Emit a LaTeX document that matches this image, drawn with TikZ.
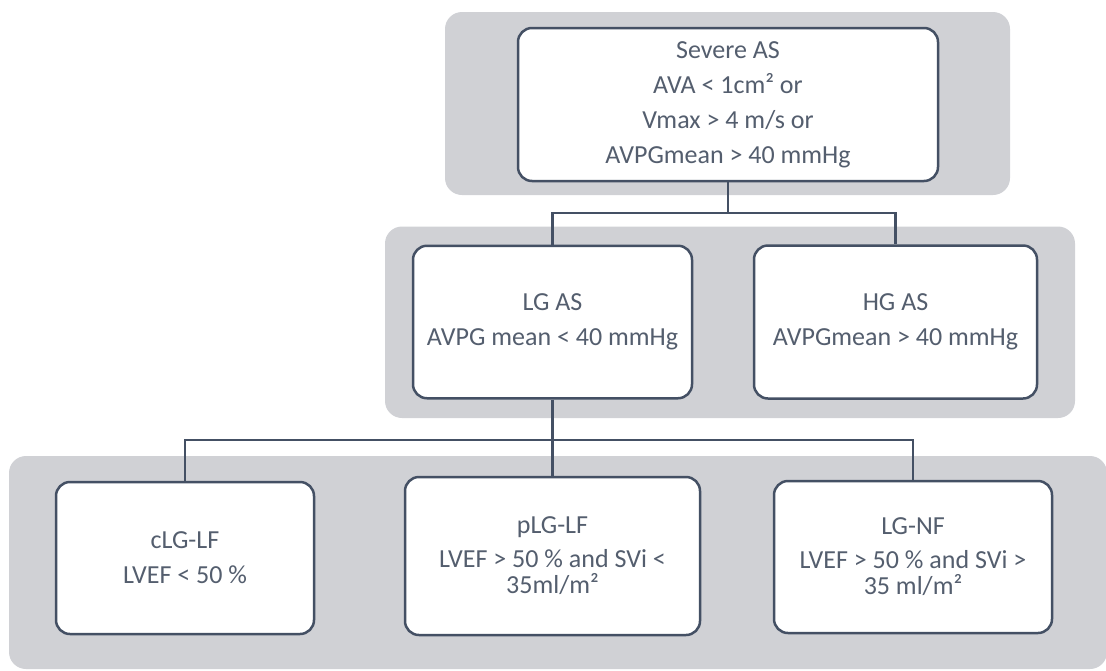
\documentclass[tikz,border=0pt]{standalone}
\usepackage{fontspec}
\setmainfont{Carlito}
\definecolor{panelgray}{RGB}{208,209,213}
\definecolor{linecol}{RGB}{68,80,100}
\definecolor{txtcol}{RGB}{84,94,110}
\tikzset{
  panel/.style={fill=panelgray, draw=none, rounded corners=17pt, inner sep=0pt},
  box/.style={draw=linecol, line width=2.5pt, fill=white, rounded corners=14pt,
    inner sep=0pt, align=center, text=txtcol,
    font=\fontsize{26}{26.5}\selectfont},
  link/.style={draw=linecol, line width=2.5pt},
}
\begin{document}
\begin{tikzpicture}[x=1pt, y=-1pt]
  \useasboundingbox (0,0) rectangle (1106,670);

  % grey bands behind each level
  \node[panel, minimum width=565pt, minimum height=183pt] (bandA) at (727.5,103.5) {};
  \node[panel, minimum width=690pt, minimum height=191.5pt] (bandB) at (730,322.25) {};
  \node[panel, minimum width=1098pt, minimum height=213pt] (bandC) at (558,562.5) {};

  % level 1
  \node[box, minimum width=420pt, minimum height=153pt] (severe) at (728,104.5)
    {Severe AS\\[8.5pt] AVA < 1cm² or\\[8.5pt] Vmax > 4 m/s or\\[8.5pt] AVPGmean > 40 mmHg};

  % level 2
  \node[box, minimum width=279pt, minimum height=152.5pt] (lg) at (552.5,322)
    {LG AS\\[8.5pt] AVPG mean < 40 mmHg};
  \node[box, minimum width=283pt, minimum height=153pt] (hg) at (895.5,322)
    {HG AS\\[8.5pt] AVPGmean > 40 mmHg};

  % level 3
  \node[box, minimum width=258pt, minimum height=152pt] (clg) at (185,558)
    {cLG-LF\\[8.5pt] LVEF < 50 \%};
  \node[box, minimum width=295pt, minimum height=158pt] (plg) at (552.5,556)
    {pLG-LF\\[7pt] LVEF > 50 \% and SVi <\\ 35ml/m²};
  \node[box, minimum width=278pt, minimum height=152pt] (lgnf) at (913,557)
    {LG-NF\\[7pt] LVEF > 50 \% and SVi >\\ 35 ml/m²};

  % connectors
  \coordinate (splitA) at (728,213);
  \coordinate (splitB) at (552.5,440);
  \draw[link] (severe.south) -- (splitA);
  \draw[link] (lg.north) -- (lg.north |- splitA) -- (hg.north |- splitA) -- (hg.north);
  \draw[link] (lg.south) -- (plg.north);
  \draw[link] (clg.north) -- (clg.north |- splitB) -- (lgnf.north |- splitB) -- (lgnf.north);
\end{tikzpicture}
\end{document}
